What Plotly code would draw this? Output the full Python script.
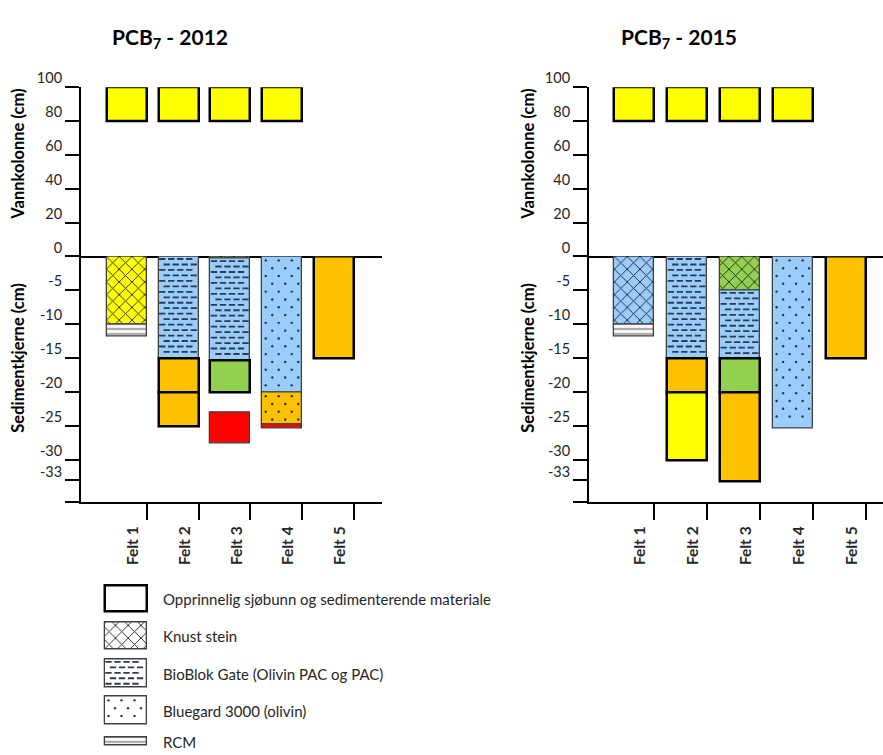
import plotly.graph_objects as go

W, H = 883, 755
FONT = "Lato"
TXT = "#262626"

# ---------------------------------------------------------------- data
felt_labels = ["Felt 1", "Felt 2", "Felt 3", "Felt 4", "Felt 5"]
felt_pos = [1, 2, 3, 4, 5]

water_ticks = [0, 20, 40, 60, 80, 100]
sediment_ticks = [-5, -10, -15, -20, -25, -30, -33]

# water column boxes (cm above the sea floor)
water_felt = [1, 2, 3, 4]
water_top = [100, 100, 100, 100]
water_bottom = [80, 80, 80, 80]

# sediment core layers, 2012 (cm below the sea floor)
sed12_felt = [1, 1, 2, 2, 2, 3, 3, 3, 3, 4, 4, 4, 5]
sed12_top = [0, -10, 0, -15, -20, 0, -0.3, -15.3, -23, 0, -20, -24.8, 0]
sed12_bottom = [-10, -11.8, -15, -20, -25, -0.3, -15.3, -20, -27.5, -20, -24.8, -25.3, -15]
sed12_fill = ["yellow", "white", "blue", "orange", "orange", "green", "blue",
              "green", "red", "blue", "orange", "red", "orange"]
sed12_texture = ["knust", "rcm", "bioblok", "", "", "knust", "bioblok",
                 "", "", "bluegard", "bluegard", "", ""]

# sediment core layers, 2015
sed15_felt = [1, 1, 2, 2, 2, 3, 3, 3, 3, 4, 5]
sed15_top = [0, -10, 0, -15, -20, 0, -5, -15, -20, 0, 0]
sed15_bottom = [-10, -11.8, -15, -20, -30, -5, -15, -20, -33.2, -25.3, -15]
sed15_fill = ["blue", "white", "blue", "orange", "yellow", "green", "blue",
              "green", "orange", "blue", "orange"]
sed15_texture = ["knust", "rcm", "bioblok", "", "", "knust", "bioblok",
                 "", "", "bluegard", ""]

legend_labels = ["Opprinnelig sjøbunn og sedimenterende materiale",
                 "Knust stein",
                 "BioBlok Gate (Olivin PAC og PAC)",
                 "Bluegard 3000 (olivin)",
                 "RCM"]
legend_texture = ["", "knust", "bioblok", "bluegard", "rcm"]

COLORS = {"yellow": "#FFFF00", "orange": "#FFC000", "green": "#92D050",
          "red": "#FF0000", "blue": "#99CCFF", "white": "#FFFFFF"}

# ---------------------------------------------------------------- geometry (px)
Y_TOP, Y_ZERO, Y_BOT = 71.0, 244.3, 496.0
SED_MIN = -36.2
BAR_PX = 40

panels = [
    dict(year="2012", felt=sed12_felt, top=sed12_top, bottom=sed12_bottom,
         fill=sed12_fill, texture=sed12_texture,
         x0=81, x1=382, xr=(0.111, 5.928), title_x=170, ytitle_x=18,
         axes=("x", "y", "x2", "y2")),
    dict(year="2015", felt=sed15_felt, top=sed15_top, bottom=sed15_bottom,
         fill=sed15_fill, texture=sed15_texture,
         x0=589, x1=883, xr=(0.14, 5.70), title_x=679, ytitle_x=528,
         axes=("x3", "y3", "x4", "y4")),
]


def fx(px):
    return px / W


def fy(py):
    return 1 - py / H


def grid(left, right, top, bottom, dx, dy, ix, iy):
    """Staggered grid of texture points inside a px rectangle."""
    xs, ys = [], []
    y, row = top + iy, 0
    while y <= bottom - iy + 0.01:
        x = left + ix + (dx / 2 if row % 2 else 0)
        while x <= right - ix + 0.01:
            xs.append(x)
            ys.append(y)
            x += dx
        y += dy
        row += 1
    return xs, ys


DASH = dict(dx=9, dy=5.6, ix=3.5, iy=2.6)
DOT = dict(dx=13, dy=8, ix=3.5, iy=4)


def texture_traces(tex, left, right, top, bottom, to_x, to_y, xa, ya):
    out = []
    if tex == "bioblok":
        xs, ys = grid(left, right, top, bottom, **DASH)
        out.append(go.Scatter(
            x=[to_x(v) for v in xs], y=[to_y(v) for v in ys], mode="markers",
            marker=dict(symbol="line-ew", size=4.5,
                        line=dict(color="#2E3B4A", width=1.8)),
            xaxis=xa, yaxis=ya, showlegend=False, hoverinfo="skip"))
    elif tex == "bluegard":
        xs, ys = grid(left, right, top, bottom, **DOT)
        out.append(go.Scatter(
            x=[to_x(v) for v in xs], y=[to_y(v) for v in ys], mode="markers",
            marker=dict(symbol="circle", size=2.4, color="#333333", line=dict(width=0)),
            xaxis=xa, yaxis=ya, showlegend=False, hoverinfo="skip"))
    return out


def bar_style(fill, tex):
    marker = dict(color=COLORS[fill])
    if tex or fill == "red":
        marker["line"] = dict(color="#404040", width=1.3)
    else:
        marker["line"] = dict(color="#000000", width=2.5)
    if tex == "knust":
        marker["pattern"] = dict(shape="x", size=9, solidity=0.2,
                                 fgcolor="#2A2A2A", bgcolor=COLORS[fill], fillmode="replace")
    elif tex == "rcm":
        marker["pattern"] = dict(shape="-", size=5, solidity=0.3,
                                 fgcolor="#7F7F7F", bgcolor=COLORS[fill], fillmode="replace")
    return marker


fig = go.Figure()
layout = {}
annotations = []

for p in panels:
    xa_up, ya_up, xa_lo, ya_lo = p["axes"]
    xr0, xr1 = p["xr"]
    ppu = (p["x1"] - p["x0"]) / (xr1 - xr0)
    sed_ppu = (Y_BOT - Y_ZERO) / (0 - SED_MIN)
    bw = BAR_PX / ppu

    def px_to_x(px, p=p, ppu=ppu):
        return p["xr"][0] + (px - p["x0"]) / ppu

    def x_to_px(x, p=p, ppu=ppu):
        return p["x0"] + (x - p["xr"][0]) * ppu

    def px_to_sed(py, sed_ppu=sed_ppu):
        return -(py - Y_ZERO) / sed_ppu

    def sed_to_px(v, sed_ppu=sed_ppu):
        return Y_ZERO - v * sed_ppu

    # water column
    for f, t, b in zip(water_felt, water_top, water_bottom):
        fig.add_trace(go.Bar(
            x=[f], y=[t - b], base=[b], width=[bw],
            marker=dict(color=COLORS["yellow"], line=dict(color="#000000", width=2.5)),
            xaxis=xa_up, yaxis=ya_up, showlegend=False, hoverinfo="skip"))

    # sediment layers
    for f, t, b, c, tex in zip(p["felt"], p["top"], p["bottom"], p["fill"], p["texture"]):
        fig.add_trace(go.Bar(
            x=[f], y=[t - b], base=[b], width=[bw], marker=bar_style(c, tex),
            xaxis=xa_lo, yaxis=ya_lo, showlegend=False, hoverinfo="skip"))
        left = x_to_px(f - bw / 2)
        right = x_to_px(f + bw / 2)
        for tr in texture_traces(tex, left, right, sed_to_px(t), sed_to_px(b),
                                 px_to_x, px_to_sed, xa_lo, ya_lo):
            fig.add_trace(tr)

    dom_x = [fx(p["x0"]), fx(p["x1"])]
    yfont = dict(family=FONT, size=14.5, color=TXT)
    common_y = dict(showline=True, linecolor="#000000", linewidth=2, ticks="outside",
                    ticklen=14, tickwidth=2, tickcolor="#000000", showgrid=False,
                    zeroline=False, tickfont=yfont, ticklabelshift=-9, fixedrange=True)

    layout["xaxis" + xa_up[1:]] = dict(
        domain=dom_x, range=list(p["xr"]), anchor=ya_up, showline=True,
        linecolor="#000000", linewidth=2, ticks="", showticklabels=False,
        showgrid=False, zeroline=False, fixedrange=True)
    layout["xaxis" + xa_lo[1:]] = dict(
        domain=dom_x, range=list(p["xr"]), anchor=ya_lo, showline=True,
        linecolor="#000000", linewidth=2, ticks="outside", ticklen=16, tickwidth=2,
        tickcolor="#000000", tickvals=[v + bw / 2 for v in felt_pos],
        ticktext=["<b>%s</b>" % s for s in felt_labels], tickangle=-90,
        ticklabelshift=-14, tickfont=dict(family=FONT, size=15.5, color=TXT),
        showgrid=False, zeroline=False, fixedrange=True)
    layout["yaxis" + ya_up[1:]] = dict(
        domain=[fy(Y_ZERO), fy(Y_TOP)], range=[0, 100], anchor=xa_up,
        tickvals=water_ticks, ticktext=[str(v) for v in water_ticks], **common_y)
    layout["yaxis" + ya_lo[1:]] = dict(
        domain=[fy(Y_BOT), fy(Y_ZERO)], range=[SED_MIN, 0], anchor=xa_lo,
        tickvals=sediment_ticks + [SED_MIN],
        ticktext=[str(v) for v in sediment_ticks] + [""], **common_y)

    annotations.append(dict(
        text="<b>PCB<sub>7</sub> - %s</b>" % p["year"], x=fx(p["title_x"]), y=fy(20),
        xref="paper", yref="paper", xanchor="center", yanchor="middle", showarrow=False,
        font=dict(family=FONT, size=21, color="#000000")))
    annotations.append(dict(
        text="<b>Vannkolonne (cm)</b>", x=fx(p["ytitle_x"]), y=fy(140), textangle=-90,
        xref="paper", yref="paper", xanchor="center", yanchor="middle", showarrow=False,
        font=dict(family=FONT, size=16.5, color="#000000")))
    annotations.append(dict(
        text="<b>Sedimentkjerne (cm)</b>", x=fx(p["ytitle_x"]), y=fy(348), textangle=-90,
        xref="paper", yref="paper", xanchor="center", yanchor="middle", showarrow=False,
        font=dict(family=FONT, size=16.5, color="#000000")))

# ---------------------------------------------------------------- legend
LEG_X = (90, 520)
LEG_Y = (570, 755)
LEG_BOX = (105, 147)
leg_box_top = [581, 619, 657, 695, 737]
leg_box_h = [27, 28, 29, 29, 8]
leg_text_y = [595, 633, 672, 710, 742]

for lab, tex, top, h, ty in zip(legend_labels, legend_texture, leg_box_top, leg_box_h, leg_text_y):
    cx = (LEG_BOX[0] + LEG_BOX[1]) / 2
    bw = LEG_BOX[1] - LEG_BOX[0]
    fig.add_trace(go.Bar(x=[cx], y=[h], base=[top], width=[bw], marker=bar_style("white", tex),
                         xaxis="x5", yaxis="y5", showlegend=False, hoverinfo="skip"))
    for tr in texture_traces(tex, LEG_BOX[0], LEG_BOX[1], top, top + h,
                             lambda v: v, lambda v: v, "x5", "y5"):
        fig.add_trace(tr)
    annotations.append(dict(
        text=lab, x=fx(161), y=fy(ty), xref="paper", yref="paper", xanchor="left",
        yanchor="middle", showarrow=False, font=dict(family=FONT, size=15, color=TXT)))

layout["xaxis5"] = dict(domain=[fx(LEG_X[0]), fx(LEG_X[1])], range=list(LEG_X),
                        visible=False, fixedrange=True, anchor="y5")
layout["yaxis5"] = dict(domain=[fy(LEG_Y[1]), fy(LEG_Y[0])], range=[LEG_Y[1], LEG_Y[0]],
                        visible=False, fixedrange=True, anchor="x5")

fig.update_layout(
    width=W, height=H, margin=dict(l=0, r=0, t=0, b=0),
    paper_bgcolor="#FFFFFF", plot_bgcolor="rgba(0,0,0,0)",
    barmode="overlay", bargap=0, showlegend=False,
    annotations=annotations, font=dict(family=FONT), **layout)

fig.write_html("out.html", config={"displayModeBar": False})
